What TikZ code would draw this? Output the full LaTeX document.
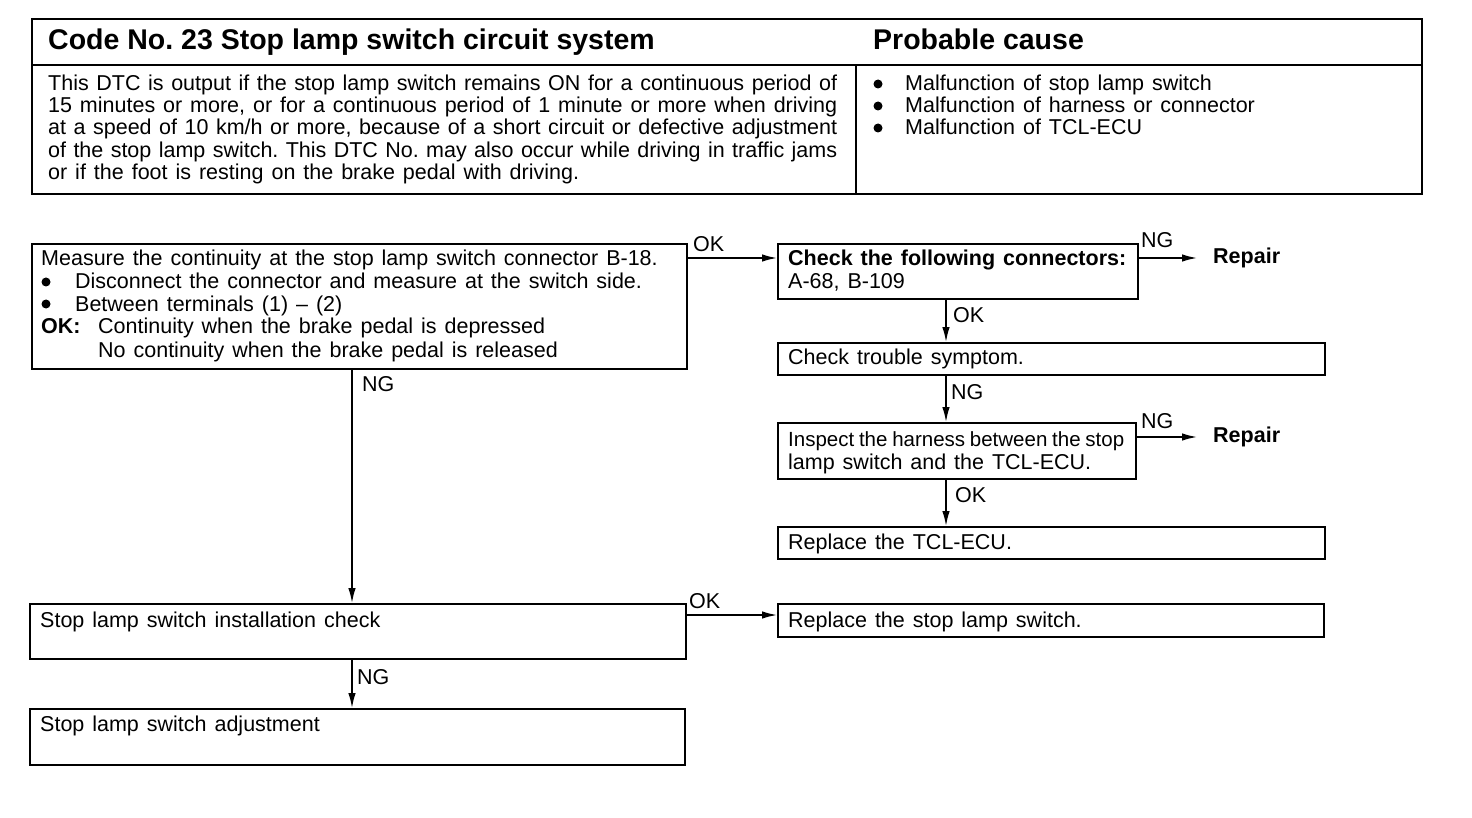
\documentclass[tikz,border=0pt]{standalone}
\usepackage{fontspec}
\setmainfont{Liberation Sans}
\usetikzlibrary{arrows.meta}
\newcommand\jl[1]{\makebox[789pt][s]{#1}}
\newcommand\wsp{\spaceskip=0.37em plus 0.3em minus 0.1em\relax}
\newcommand\tightsp{\fontsize{20.5}{22.5}\selectfont\spaceskip=0.1em plus 1fil minus 0.1em\relax}
\begin{document}
\frenchspacing
\begin{tikzpicture}[x=1pt,y=-1pt,
  box/.style={draw,line width=1.7pt,inner sep=0pt,anchor=north west},
  txt/.style={anchor=base west,inner sep=0pt,font=\fontsize{21.5}{22.5}\selectfont\wsp},
  hdr/.style={anchor=base west,inner sep=0pt,font=\fontsize{28.5}{30}\selectfont\bfseries},
  bul/.style={circle,fill,inner sep=0pt,minimum size=9pt},
  rep/.style={anchor=west,inner xsep=16pt,inner ysep=0pt,font=\fontsize{21.5}{22.5}\selectfont\bfseries},
  arr/.style={line width=1.5pt,-{Latex[length=15pt,width=7.5pt]}}]
\useasboundingbox (0,0) rectangle (1472,818);
% ---------- top table ----------
\node[box,minimum width=1390pt,minimum height=175pt] (tab) at (31,18) {};
\draw[line width=1.6pt] (31,65) -- (1421,65);
\draw[line width=1.2pt] (856,65) -- (856,193);
\node[hdr] (h1) at (48,50) {Code No. 23 Stop lamp switch circuit system};
\node[hdr] (h2) at (873,50) {Probable cause};
\node[txt] (d1) at (48,91) {\jl{This DTC is output if the stop lamp switch remains ON for a continuous period of}};
\node[txt] (d2) at (48,113) {\jl{15 minutes or more, or for a continuous period of 1 minute or more when driving}};
\node[txt] (d3) at (48,135) {\jl{at a speed of 10 km/h or more, because of a short circuit or defective adjustment}};
\node[txt] (d4) at (48,158) {\jl{of the stop lamp switch. This DTC No. may also occur while driving in traffic jams}};
\node[txt] (d5) at (48,180) {or if the foot is resting on the brake pedal with driving.};
\node[bul] (pb1) at (878,84) {};
\node[bul] (pb2) at (878,106) {};
\node[bul] (pb3) at (878,128) {};
\node[txt] (p1) at (905,91) {Malfunction of stop lamp switch};
\node[txt] (p2) at (905,113) {Malfunction of harness or connector};
\node[txt] (p3) at (905,135) {Malfunction of TCL-ECU};
% ---------- boxes ----------
\node[box,minimum width=655pt,minimum height=125pt] (b1) at (31,243) {};
\node[box,minimum width=360pt,minimum height=55pt] (b2) at (777,243) {};
\node[box,minimum width=547pt,minimum height=32pt] (b3) at (777,342) {};
\node[box,minimum width=358pt,minimum height=56pt] (b4) at (777,422) {};
\node[box,minimum width=547pt,minimum height=32pt] (b5) at (777,526) {};
\node[box,minimum width=656pt,minimum height=55pt] (b6) at (29,603) {};
\node[box,minimum width=546pt,minimum height=33pt] (b7) at (777,603) {};
\node[box,minimum width=655pt,minimum height=56pt] (b8) at (29,708) {};
% ---------- box texts ----------
\node[txt] (t11) at (41,266) {Measure the continuity at the stop lamp switch connector B-18.};
\node[bul] (t12b) at (46,282) {};
\node[txt] (t12) at (75,289) {Disconnect the connector and measure at the switch side.};
\node[bul] (t13b) at (46,304) {};
\node[txt] (t13) at (75,311) {Between terminals (1) -- (2)};
\node[txt] (t14a) at (41,334) {\textbf{OK:}};
\node[txt] (t14) at (98,334) {Continuity when the brake pedal is depressed};
\node[txt] (t15) at (98,357) {No continuity when the brake pedal is released};
\node[txt] (t21) at (788,266) {\textbf{Check the following connectors:}};
\node[txt] (t22) at (788,289) {A-68, B-109};
\node[txt] (t31) at (788,364) {Check trouble symptom.};
\node[txt] (t41) at (788,446) {\makebox[336pt][s]{\tightsp Inspect the harness between the stop}};
\node[txt] (t42) at (788,469) {lamp switch and the TCL-ECU.};
\node[txt] (t51) at (788,549) {Replace the TCL-ECU.};
\node[txt] (t61) at (40,627) {Stop lamp switch installation check};
\node[txt] (t71) at (788,627) {Replace the stop lamp switch.};
\node[txt] (t81) at (40,731) {Stop lamp switch adjustment};
% ---------- repair nodes ----------
\node[rep] (r1) at (1197,258) {Repair};
\node[rep] (r2) at (1197,437) {Repair};
% ---------- connectors ----------
\draw[arr] (b1.east |- 0,258) -- (b2.west |- 0,258);
\draw[arr] (b2.east |- r1.west) -- (r1.west);
\draw[arr] (b2.south -| 946,0) -- (b3.north -| 946,0);
\draw[arr] (b3.south -| 946,0) -- (b4.north -| 946,0);
\draw[arr] (b4.east |- r2.west) -- (r2.west);
\draw[arr] (b4.south -| 946,0) -- (b5.north -| 946,0);
\draw[arr] (b1.south -| 352,0) -- (b6.north -| 352,0);
\draw[arr] (b6.east |- 0,615) -- (b7.west |- 0,615);
\draw[arr] (b6.south -| 352,0) -- (b8.north -| 352,0);
% ---------- labels ----------
\node[txt] (l1) at (693,252) {OK};
\node[txt] (l2) at (1141,248) {NG};
\node[txt] (l3) at (953,323) {OK};
\node[txt] (l4) at (951,399) {NG};
\node[txt] (l5) at (1141,428) {NG};
\node[txt] (l6) at (955,502) {OK};
\node[txt] (l7) at (362,391) {NG};
\node[txt] (l8) at (689,608) {OK};
\node[txt] (l9) at (357,684) {NG};
\end{tikzpicture}
\end{document}
